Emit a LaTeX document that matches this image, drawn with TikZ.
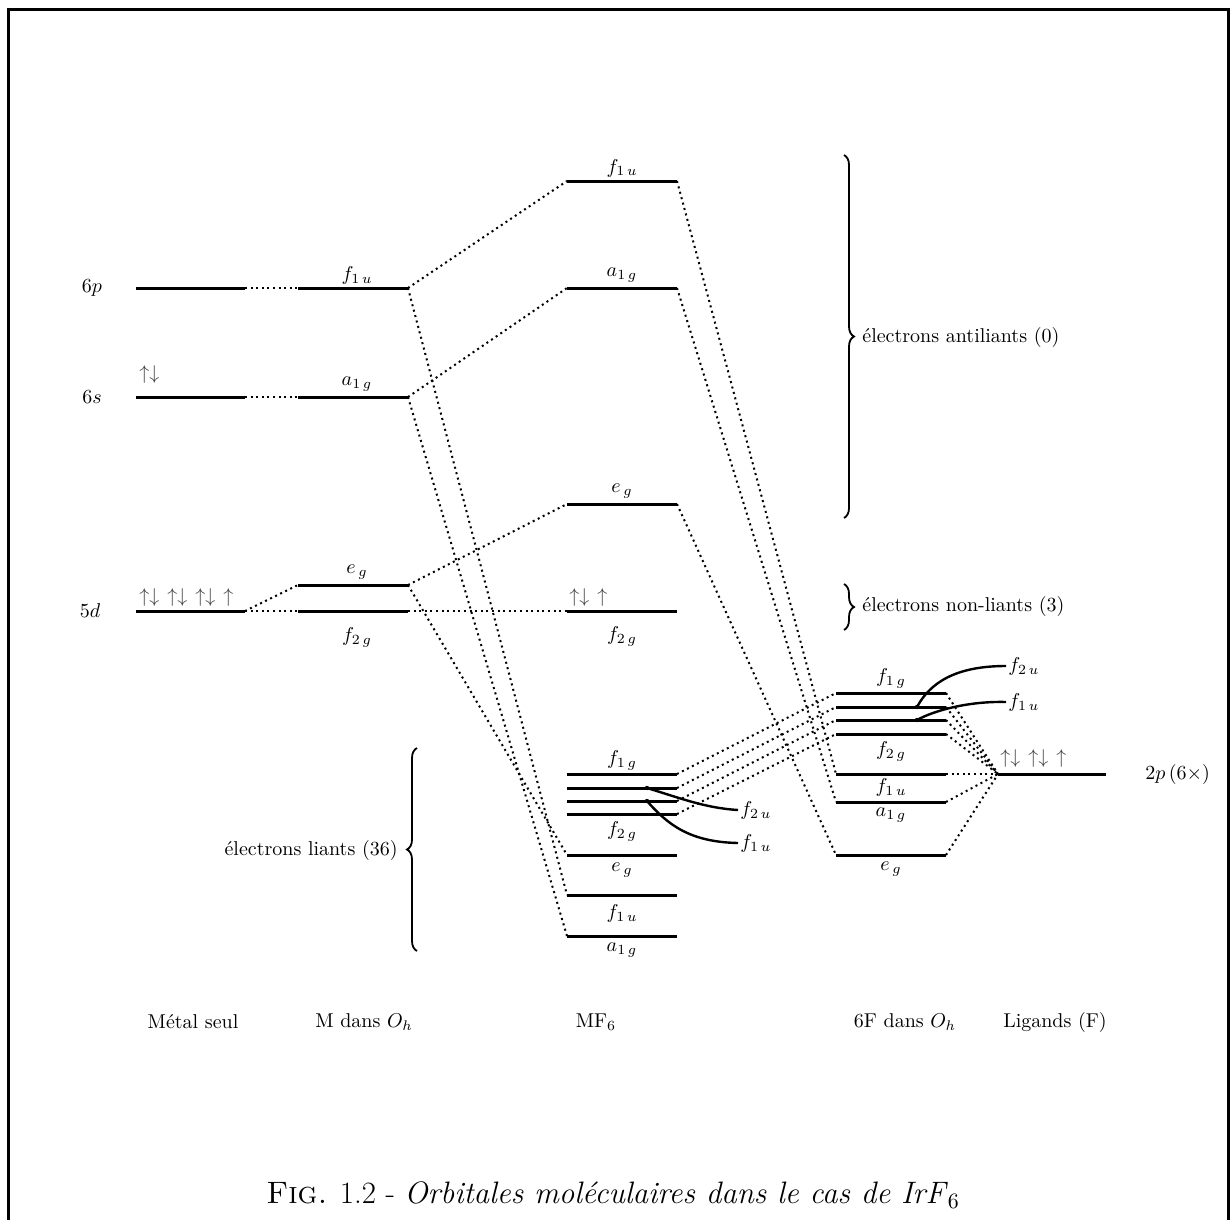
\documentclass[tikz,border=0pt]{standalone}
\usetikzlibrary{decorations.pathreplacing}
\newcommand\mylev[4]{\coordinate (#1l) at (#2,#4); \coordinate (#1r) at (#3,#4); \draw[level] (#1l) -- (#1r);}
\begin{document}
\begin{tikzpicture}[x=0.5pt,y=-0.5pt,
  level/.style={line width=1.5pt},
  conn/.style={line width=1pt, dash pattern=on 1pt off 1.8pt},
  ptr/.style={line width=1.2pt},
  br/.style={decorate, decoration={brace, amplitude=5pt}, line width=0.9pt},
  lab/.style={inner sep=1pt},
  el/.style={anchor=west, inner sep=0pt, text=black!75}]
\useasboundingbox (0,0) rectangle (1231,1220);
\draw[line width=1.5pt] (8,1220) -- (8,9.5) -- (1228,9.5) -- (1228,1220);

% column 1: metal alone
\mylev{ma}{136}{245}{288}
\mylev{mb}{136}{245}{397}
\mylev{mc}{136}{245}{611}
\node[lab] (l6p) at (92,288) {$6p$};
\node[lab] (l6s) at (92,397) {$6s$};
\node[lab] (l5d) at (90,611) {$5d$};
\node[el] (e6s) at (139,374) {$\uparrow\downarrow$};
\node[el] (e5d) at (139,597) {$\uparrow\downarrow\hspace{4pt}\uparrow\downarrow\hspace{4pt}\uparrow\downarrow\hspace{4pt}\uparrow$};

% column 2: M in Oh
\mylev{oa}{298}{408}{288}
\mylev{ob}{298}{408}{397}
\mylev{oc}{298}{408}{585}
\mylev{od}{298}{408}{611}
\node[lab] at (357,275) {$f_{1\,u}$};
\node[lab] at (357,384) {$a_{1\,g}$};
\node[lab] at (357,572) {$e_{\,g}$};
\node[lab] at (357,637) {$f_{2\,g}$};

% column 3: MF6
\mylev{ca}{567}{677}{181}
\mylev{cb}{567}{677}{288}
\mylev{cc}{567}{677}{504}
\mylev{cd}{567}{677}{611}
\mylev{ce}{567}{677}{774}
\mylev{cf}{567}{677}{788}
\mylev{cg}{567}{677}{801}
\mylev{ch}{567}{677}{814}
\mylev{ci}{567}{677}{855}
\mylev{cj}{567}{677}{895}
\mylev{ck}{567}{677}{936}
\node[lab] at (622,168) {$f_{1\,u}$};
\node[lab] at (622,275) {$a_{1\,g}$};
\node[lab] at (622,491) {$e_{\,g}$};
\node[el] (ecd) at (569,597) {$\uparrow\downarrow\hspace{4pt}\uparrow$};
\node[lab] at (622,636) {$f_{2\,g}$};
\node[lab] at (622,760) {$f_{1\,g}$};
\node[lab] at (622,831) {$f_{2\,g}$};
\node[lab] at (622,870) {$e_{\,g}$};
\node[lab] at (622,913) {$f_{1\,u}$};
\node[lab] at (622,950) {$a_{1\,g}$};

% column 4: 6F in Oh
\mylev{fa}{836}{946}{693}
\mylev{fb}{836}{946}{707}
\mylev{fc}{836}{946}{720}
\mylev{fd}{836}{946}{734}
\mylev{fe}{836}{946}{774}
\mylev{ff}{836}{946}{802}
\mylev{fg}{836}{946}{855}
\node[lab] at (891,678) {$f_{1\,g}$};
\node[lab] at (891,751) {$f_{2\,g}$};
\node[lab] at (891,787) {$f_{1\,u}$};
\node[lab] at (891,815) {$a_{1\,g}$};
\node[lab] at (891,869) {$e_{\,g}$};

% column 5: ligands
\mylev{L}{998}{1106}{774}
\node[el] (eL) at (1000,758) {$\uparrow\downarrow\hspace{4pt}\uparrow\downarrow\hspace{4pt}\uparrow$};
\node[lab, anchor=west] (l2p) at (1143,774) {$2p\,(6\times)$};

% correlation lines
\draw[conn] (mar) -- (oal);
\draw[conn] (mbr) -- (obl);
\draw[conn] (mcr) -- (ocl);
\draw[conn] (mcr) -- (odl);
\draw[conn] (oar) -- (cal);
\draw[conn] (oar) -- (cjl);
\draw[conn] (obr) -- (cbl);
\draw[conn] (obr) -- (ckl);
\draw[conn] (ocr) -- (ccl);
\draw[conn] (ocr) -- (cil);
\draw[conn] (odr) -- (cdl);
\draw[conn] (car) -- (fel);
\draw[conn] (cbr) -- (ffl);
\draw[conn] (ccr) -- (fgl);
\draw[conn] (cer) -- (fal);
\draw[conn] (cfr) -- (fbl);
\draw[conn] (cgr) -- (fcl);
\draw[conn] (chr) -- (fdl);
\foreach \n in {fa,fb,fc,fd,fe,ff,fg} \draw[conn] (\n r) -- (Ll);

% pointers to non-bonding f2u / f1u
\coordinate (pa) at (647,788);
\coordinate (pb) at (647,801);
\coordinate (pc) at (917,707);
\coordinate (pd) at (917,720);
\node[lab, anchor=west] (ta) at (738,810) {$f_{2\,u}$};
\node[lab, anchor=west] (tb) at (738,843) {$f_{1\,u}$};
\node[lab, anchor=west] (tc) at (1006,666) {$f_{2\,u}$};
\node[lab, anchor=west] (td) at (1006,702) {$f_{1\,u}$};
\draw[ptr] (pa) .. controls (680,798) and (705,808) .. (ta.west);
\draw[ptr] (pb) .. controls (668,825) and (690,842) .. (tb.west);
\draw[ptr] (pc) .. controls (930,683) and (955,666) .. (tc.west);
\draw[ptr] (pd) .. controls (935,710) and (970,701) .. (td.west);
\foreach \p in {pa,pb,pc,pd} \fill (\p) circle (2.2);

% braces
\coordinate (ba1) at (844,155);
\coordinate (ba2) at (844,518);
\draw[br] (ba1) -- (ba2);
\node[lab, anchor=west] (tanti) at (860,337) {électrons antiliants (0)};
\coordinate (bn1) at (844,584);
\coordinate (bn2) at (844,630);
\draw[br] (bn1) -- (bn2);
\node[lab, anchor=west] (tnon) at (860,606) {électrons non-liants (3)};
\coordinate (bl1) at (417,951);
\coordinate (bl2) at (417,748);
\draw[br] (bl1) -- (bl2);
\node[lab, anchor=east] (tli) at (400,850) {électrons liants (36)};

% column titles
\node[lab] (h1) at (193,1022) {Métal seul};
\node[lab] (h2) at (364,1022) {M dans $O_h$};
\node[lab] (h3) at (596,1022) {MF$_6$};
\node[lab] (h4) at (905,1022) {6F dans $O_h$};
\node[lab] (h5) at (1055,1022) {Ligands (F)};

% caption
\node[lab] (cap) at (613,1195) {\fontsize{15.5}{18}\selectfont\textsc{Fig.} 1.2 - \textit{Orbitales moléculaires dans le cas de IrF}$_6$};
\end{tikzpicture}
\end{document}
